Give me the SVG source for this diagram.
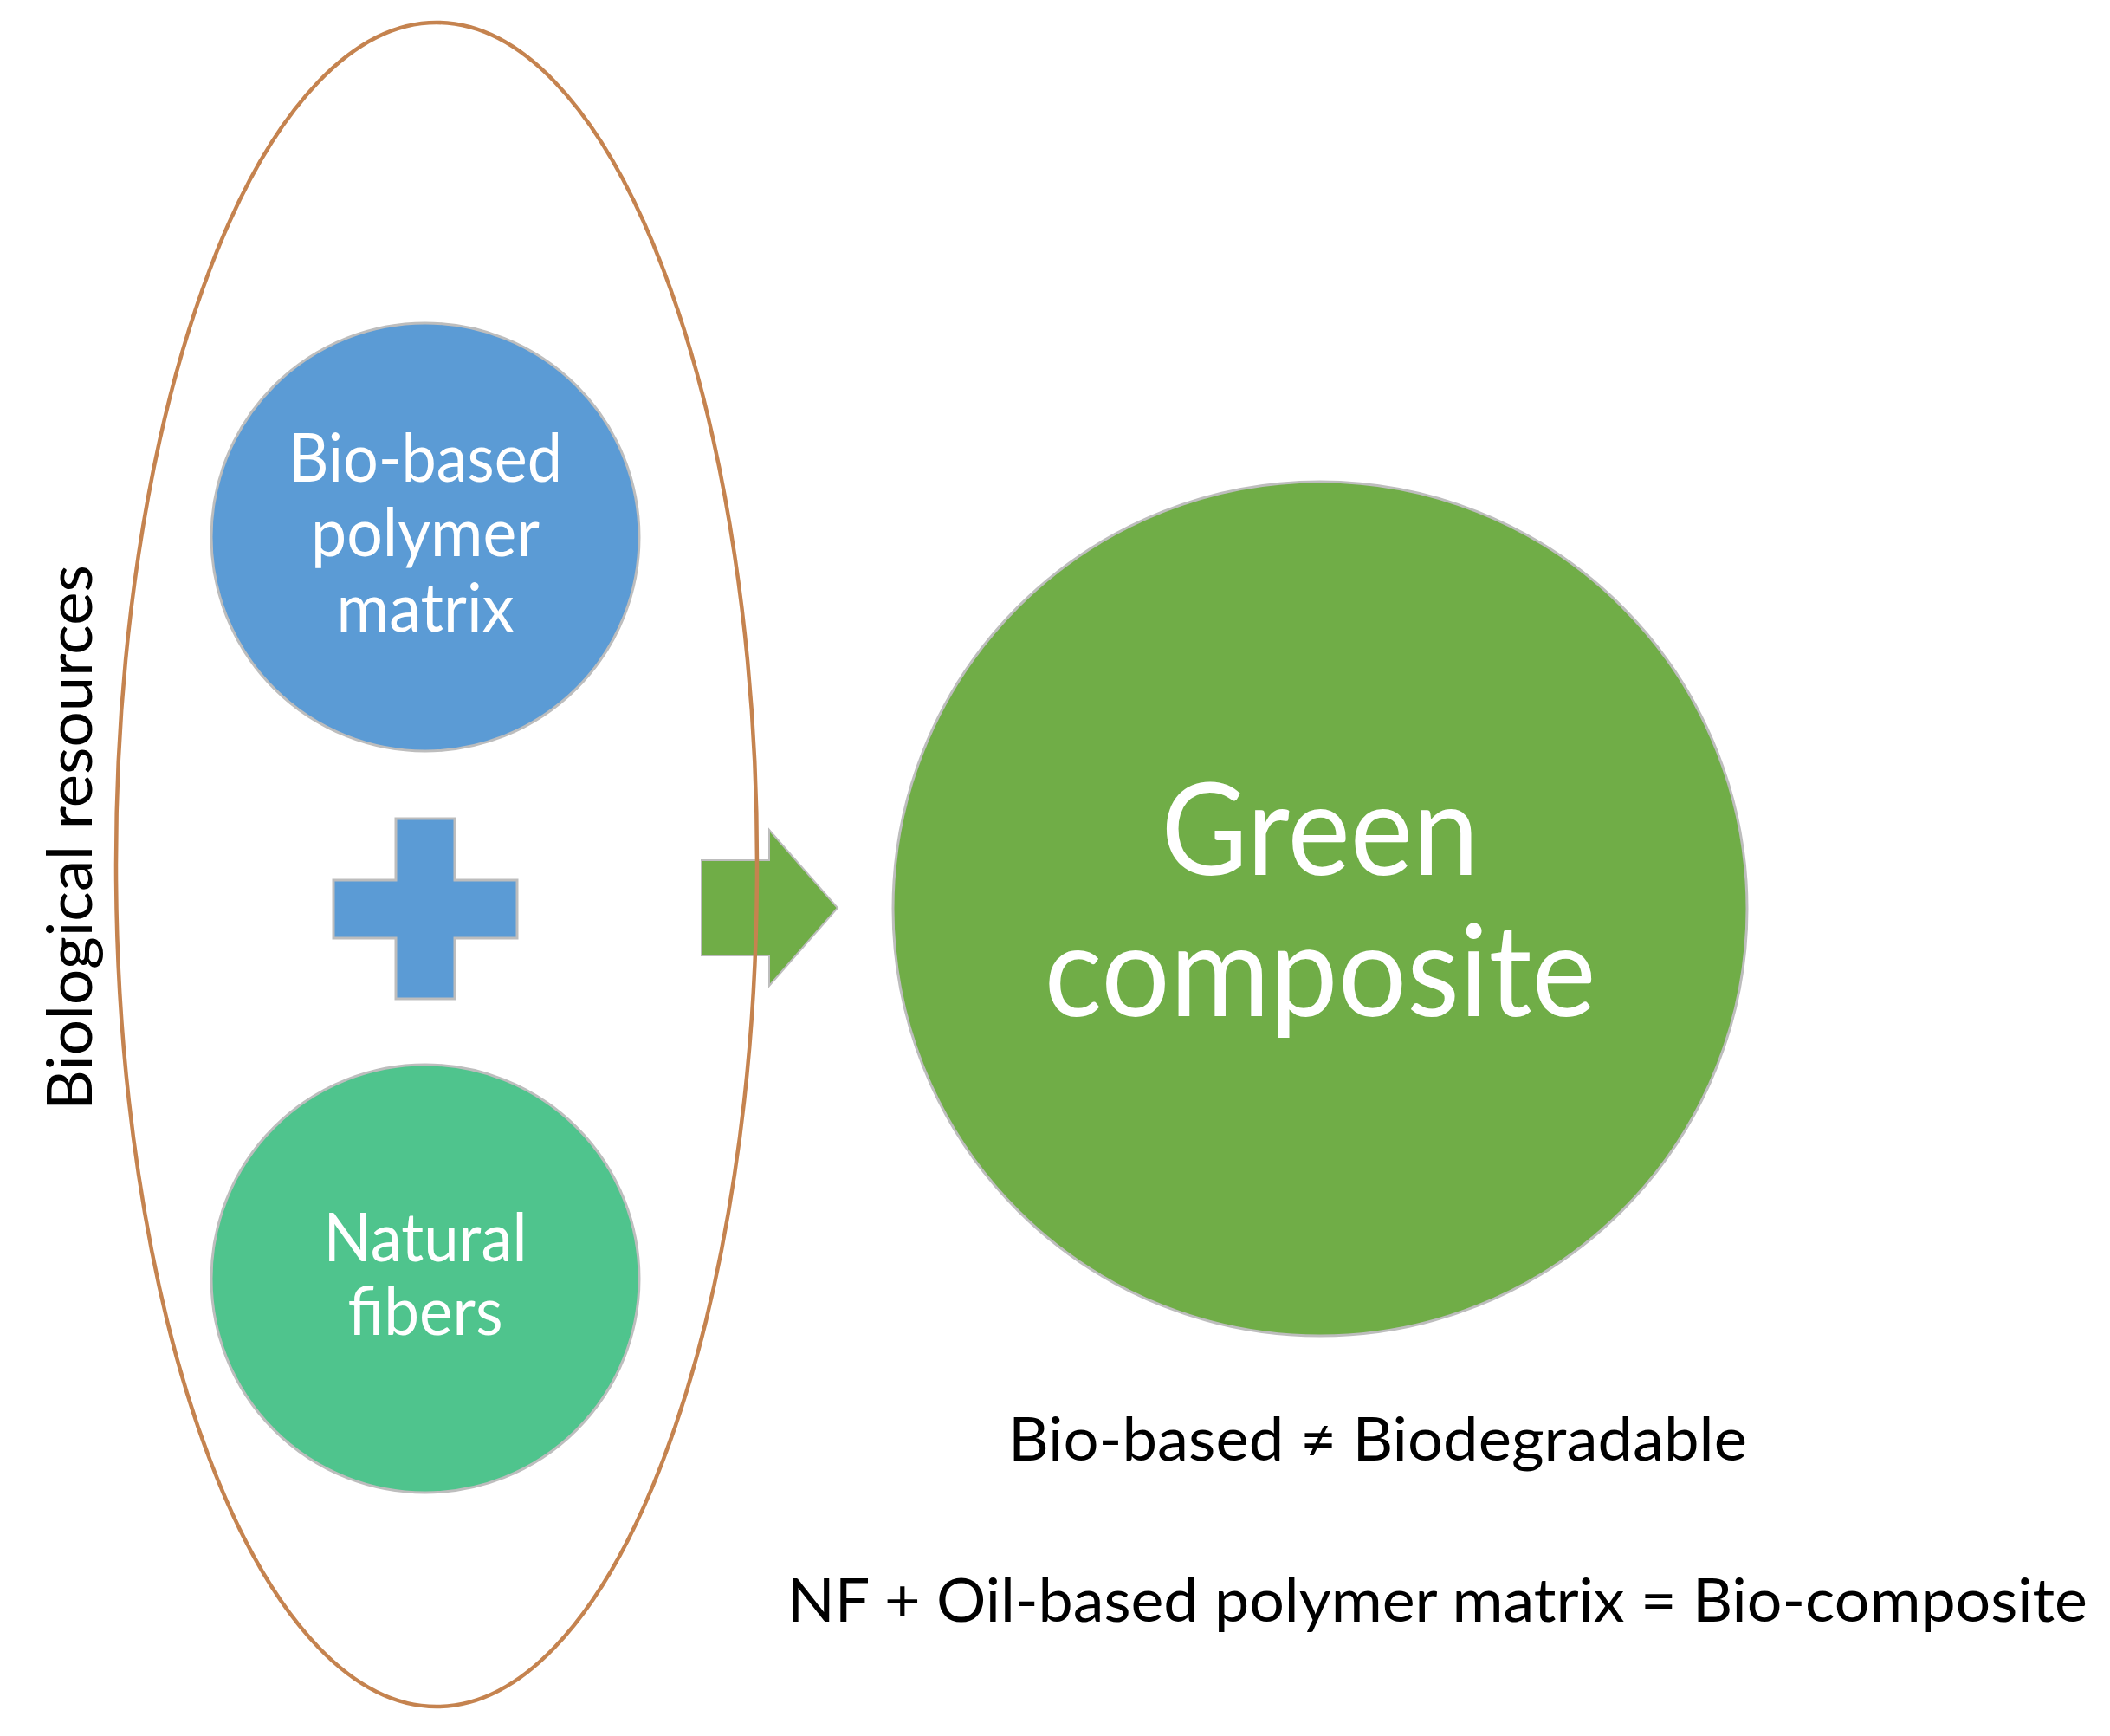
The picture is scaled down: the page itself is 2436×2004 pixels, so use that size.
<svg xmlns="http://www.w3.org/2000/svg" width="2436" height="2004" viewBox="0 0 2436 2004">
<style>
.node{stroke:#BDBDBD;stroke-width:3}
.lbl{font-family:Lato,"Liberation Sans",sans-serif;fill:#FFFFFF;text-anchor:middle}
.note{font-family:Lato,"Liberation Sans",sans-serif;fill:#000000}
</style>
<rect width="2436" height="2004" fill="#FFFFFF"/>
<g id="connectors">
<path stroke="#BDBDBD" stroke-width="2" fill="#70AD47" d="M810,993 H888 V958 L967,1048 L888,1138 V1103 H810 Z"/>
</g>
<g id="biological-resources">
<ellipse cx="504" cy="998" rx="370" ry="972" fill="none" stroke="#C5834F" stroke-width="4.5"/>
<text class="note" transform="translate(106,967) rotate(-90)" text-anchor="middle" font-size="72" textLength="630" lengthAdjust="spacingAndGlyphs">Biological resources</text>
</g>
<g id="bio-based-polymer-matrix">
<circle class="node" cx="491" cy="620" r="247" fill="#5B9BD5"/>
<text class="lbl" font-size="78"><tspan x="491" y="556" textLength="316" lengthAdjust="spacingAndGlyphs">Bio-based</tspan><tspan x="491" y="642" textLength="264" lengthAdjust="spacingAndGlyphs">polymer</tspan><tspan x="491" y="729" textLength="205" lengthAdjust="spacingAndGlyphs">matrix</tspan></text>
</g>
<g id="plus">
<path class="node" stroke-width="2" fill="#5B9BD5" d="M457,945 H525 V1016 H597 V1083 H525 V1153 H457 V1083 H385 V1016 H457 Z"/>
</g>
<g id="natural-fibers">
<circle class="node" cx="491" cy="1476" r="247" fill="#4FC48D"/>
<text class="lbl" font-size="78"><tspan x="491" y="1456" textLength="235" lengthAdjust="spacingAndGlyphs">Natural</tspan><tspan x="491" y="1541" textLength="179" lengthAdjust="spacingAndGlyphs">fibers</tspan></text>
</g>
<g id="green-composite">
<circle class="node" cx="1524" cy="1049" r="493" fill="#70AD47"/>
<text class="lbl" font-size="148"><tspan x="1524" y="1010" textLength="367" lengthAdjust="spacingAndGlyphs">Green</tspan><tspan x="1524" y="1173" textLength="637" lengthAdjust="spacingAndGlyphs">composite</tspan></text>
</g>
<g id="notes">
<text class="note" x="1164" y="1686" font-size="70" textLength="853" lengthAdjust="spacingAndGlyphs">Bio-based ≠ Biodegradable</text>
<text class="note" x="909" y="1872" font-size="70" textLength="1501" lengthAdjust="spacingAndGlyphs">NF + Oil-based polymer matrix = Bio-composite</text>
</g>
</svg>
